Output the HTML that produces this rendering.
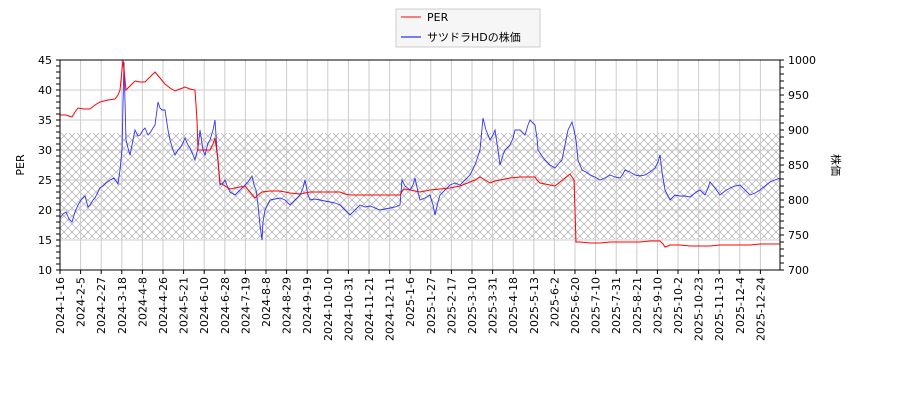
<!DOCTYPE html>
<html><head><meta charset="utf-8"><style>body{margin:0;background:#fff}svg{display:block;font-family:"DejaVu Sans","Noto Sans CJK JP",sans-serif}</style></head><body>
<svg width="900" height="400" xmlns="http://www.w3.org/2000/svg">
<defs><pattern id="h" width="8" height="8" patternUnits="userSpaceOnUse"><path d="M0 0L8 8M8 0L0 8" stroke="#999" stroke-width="0.6"/></pattern></defs>
<rect x="60" y="133" width="720" height="106" fill="url(#h)"/>
<g stroke="#ccc" stroke-width="1">
<line x1="60" x2="780" y1="90" y2="90"/><line x1="60" x2="780" y1="120" y2="120"/><line x1="60" x2="780" y1="150" y2="150"/><line x1="60" x2="780" y1="180" y2="180"/><line x1="60" x2="780" y1="210" y2="210"/><line x1="60" x2="780" y1="240" y2="240"/>
<path d="M80.6 60V270M101.2 60V270M121.8 60V270M142.4 60V270M163 60V270M183.6 60V270M204.2 60V270M224.8 60V270M245.4 60V270M266 60V270M286.6 60V270M307.2 60V270M327.8 60V270M348.4 60V270M369 60V270M389.6 60V270M410.2 60V270M430.8 60V270M451.4 60V270M472 60V270M492.6 60V270M513.2 60V270M533.8 60V270M554.4 60V270M575 60V270M595.6 60V270M616.2 60V270M636.8 60V270M657.4 60V270M678 60V270M698.6 60V270M719.2 60V270M739.8 60V270M760.4 60V270"/>
</g>
<polyline fill="none" stroke="#00f" stroke-width="0.9" opacity="0.8" points="60,218 63,214 66,212 69,219 72,222 75,212 78,205 81,200 85,196 88,207 90,205 93,200 95,198 98,192 100,188 103,186 106,183 110,180 114,178 118,184 120,170 122,150 124,62 126,140 128,148 130,155 132,145 135,130 138,136 140,135 143,130 145,128 148,135 150,133 153,128 155,125 158,102 160,108 162,110 165,110 168,130 170,140 173,150 175,155 178,150 180,148 183,143 185,138 188,145 190,148 193,155 195,160 198,148 200,130 203,150 205,155 208,143 210,140 213,130 215,120 217,150 220,185 223,183 225,180 228,188 230,192 235,195 240,190 245,185 248,182 252,176 254,185 256,190 258,205 260,225 262,240 263,222 265,210 268,204 270,200 275,199 280,198 285,200 290,205 295,200 300,195 303,188 305,180 308,195 310,200 315,199 320,200 325,201 330,202 335,203 340,205 345,210 350,215 355,210 360,205 365,207 370,206 375,208 380,210 385,209 390,208 395,207 400,205 402,180 405,186 410,190 413,185 415,178 418,192 420,200 425,198 430,195 433,205 435,215 438,202 440,195 445,190 450,185 455,183 460,185 465,180 470,175 475,165 480,150 483,118 486,130 490,140 493,135 495,130 498,150 500,165 503,155 505,150 510,145 513,138 515,130 520,130 523,133 525,135 528,125 530,120 535,125 537,138 538,150 542,156 545,160 550,165 555,168 560,162 562,160 565,145 568,130 572,122 574,130 576,140 578,160 582,170 586,172 590,175 595,177 600,180 605,178 610,175 615,177 620,178 623,174 625,170 630,172 635,175 640,176 645,175 650,172 655,168 658,162 660,155 662,172 665,190 668,196 670,200 673,197 675,195 680,196 685,196 690,197 695,193 700,190 703,193 705,195 708,188 710,182 715,188 720,195 725,191 730,188 735,186 740,185 745,190 750,195 755,193 760,190 765,186 770,182 775,180 780,178"/>
<polyline fill="none" stroke="#f00" stroke-width="1" points="60,115 66,115 72,117 75,112 78,108 84,109 90,109 95,105 100,102 108,100 115,99 118,95 120,90 123,60 126,90 130,86 135,81 140,82 145,82 150,77 155,72 160,78 165,84 170,88 175,91 180,89 185,87 190,89 195,90 197,120 198,150 205,150 210,150 213,144 215,138 218,160 220,183 225,186 230,189 235,188 240,187 245,186 250,192 255,198 258,195 262,192 270,191 280,191 290,193 300,194 305,193 310,192 320,192 330,192 340,192 345,194 350,195 360,195 370,195 380,195 390,195 400,195 403,190 405,189 410,190 415,191 420,192 430,190 440,189 450,188 460,186 470,182 475,180 480,177 485,180 490,183 495,181 500,180 510,178 520,177 528,177 535,177 537,180 540,183 545,184 550,185 555,186 560,182 565,178 570,174 574,180 575,210 576,242 580,242 590,243 600,243 610,242 620,242 630,242 640,242 650,241 660,241 663,244 665,247 668,246 670,245 680,245 690,246 700,246 710,246 720,245 730,245 740,245 750,245 760,244 770,244 780,244"/>
<rect x="60" y="60" width="720" height="210" fill="none" stroke="#000"/>
<g stroke="#000" fill="none">
<line x1="58" x2="58" y1="59.5" y2="271" stroke-width="4" stroke-dasharray="1 5"/>
<line x1="782" x2="782" y1="59.5" y2="271" stroke-width="4" stroke-dasharray="1 6"/>
<path d="M56 60H60M56 90H60M56 120H60M56 150H60M56 180H60M56 210H60M56 240H60M56 270H60M780 60H784M780 95H784M780 130H784M780 165H784M780 200H784M780 235H784M780 270H784"/>
<path d="M60 270v4M80.6 270v4M101.2 270v4M121.8 270v4M142.4 270v4M163 270v4M183.6 270v4M204.2 270v4M224.8 270v4M245.4 270v4M266 270v4M286.6 270v4M307.2 270v4M327.8 270v4M348.4 270v4M369 270v4M389.6 270v4M410.2 270v4M430.8 270v4M451.4 270v4M472 270v4M492.6 270v4M513.2 270v4M533.8 270v4M554.4 270v4M575 270v4M595.6 270v4M616.2 270v4M636.8 270v4M657.4 270v4M678 270v4M698.6 270v4M719.2 270v4M739.8 270v4M760.4 270v4"/>
</g>
<g font-size="11" fill="#000">
<text x="52" y="64" text-anchor="end">45</text><text x="52" y="94" text-anchor="end">40</text><text x="52" y="124" text-anchor="end">35</text><text x="52" y="154" text-anchor="end">30</text><text x="52" y="184" text-anchor="end">25</text><text x="52" y="214" text-anchor="end">20</text><text x="52" y="244" text-anchor="end">15</text><text x="52" y="274" text-anchor="end">10</text>
<text x="788" y="64">1000</text><text x="788" y="99">950</text><text x="788" y="134">900</text><text x="788" y="169">850</text><text x="788" y="204">800</text><text x="788" y="239">750</text><text x="788" y="274">700</text>
<text transform="translate(24,165) rotate(-90)" text-anchor="middle">PER</text>
<text transform="translate(832,165) rotate(90)" text-anchor="middle">株価</text>
<g text-anchor="end">
<text transform="translate(64,277) rotate(-90)">2024-1-16</text>
<text transform="translate(84.6,277) rotate(-90)">2024-2-5</text>
<text transform="translate(105.2,277) rotate(-90)">2024-2-27</text>
<text transform="translate(125.8,277) rotate(-90)">2024-3-18</text>
<text transform="translate(146.4,277) rotate(-90)">2024-4-8</text>
<text transform="translate(167,277) rotate(-90)">2024-4-26</text>
<text transform="translate(187.6,277) rotate(-90)">2024-5-21</text>
<text transform="translate(208.2,277) rotate(-90)">2024-6-10</text>
<text transform="translate(228.8,277) rotate(-90)">2024-6-28</text>
<text transform="translate(249.4,277) rotate(-90)">2024-7-19</text>
<text transform="translate(270,277) rotate(-90)">2024-8-8</text>
<text transform="translate(290.6,277) rotate(-90)">2024-8-29</text>
<text transform="translate(311.2,277) rotate(-90)">2024-9-19</text>
<text transform="translate(331.8,277) rotate(-90)">2024-10-10</text>
<text transform="translate(352.4,277) rotate(-90)">2024-10-31</text>
<text transform="translate(373,277) rotate(-90)">2024-11-21</text>
<text transform="translate(393.6,277) rotate(-90)">2024-12-11</text>
<text transform="translate(414.2,277) rotate(-90)">2025-1-6</text>
<text transform="translate(434.8,277) rotate(-90)">2025-1-27</text>
<text transform="translate(455.4,277) rotate(-90)">2025-2-17</text>
<text transform="translate(476,277) rotate(-90)">2025-3-10</text>
<text transform="translate(496.6,277) rotate(-90)">2025-3-31</text>
<text transform="translate(517.2,277) rotate(-90)">2025-4-18</text>
<text transform="translate(537.8,277) rotate(-90)">2025-5-13</text>
<text transform="translate(558.4,277) rotate(-90)">2025-6-2</text>
<text transform="translate(579,277) rotate(-90)">2025-6-20</text>
<text transform="translate(599.6,277) rotate(-90)">2025-7-10</text>
<text transform="translate(620.2,277) rotate(-90)">2025-7-31</text>
<text transform="translate(640.8,277) rotate(-90)">2025-8-21</text>
<text transform="translate(661.4,277) rotate(-90)">2025-9-10</text>
<text transform="translate(682,277) rotate(-90)">2025-10-2</text>
<text transform="translate(702.6,277) rotate(-90)">2025-10-23</text>
<text transform="translate(723.2,277) rotate(-90)">2025-11-13</text>
<text transform="translate(743.8,277) rotate(-90)">2025-12-4</text>
<text transform="translate(764.4,277) rotate(-90)">2025-12-24</text>
</g>
</g>
<rect x="396" y="9" width="144" height="38" fill="#f6f6f6" stroke="#ccc"/>
<line x1="401" x2="421" y1="17" y2="17" stroke="#f00"/><line x1="401" x2="421" y1="37" y2="37" stroke="#00f"/>
<text x="427" y="21" font-size="11">PER</text><text x="427" y="41" font-size="11">サツドラHDの株価</text>
</svg></body></html>
